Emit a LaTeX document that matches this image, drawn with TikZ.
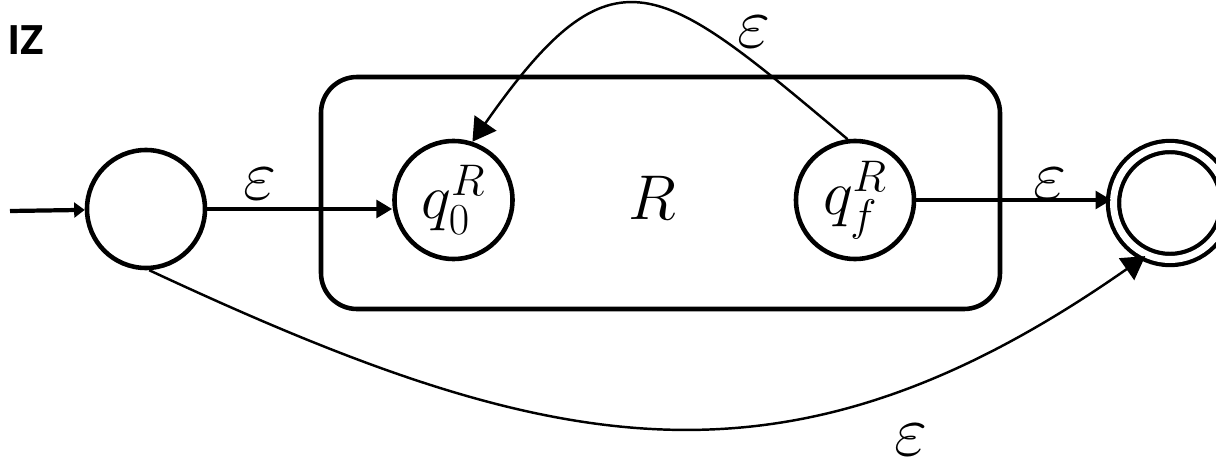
\documentclass[tikz,border=0pt]{standalone}
\usepackage{fix-cm}
\usepackage{fontspec}
\newfontfamily\izfont{Open Sans}
\usepackage{tikz}
\usetikzlibrary{positioning,arrows.meta}

\begin{document}
\begin{tikzpicture}[
  st/.style={circle, draw, line width=2.6pt, minimum size=2.36cm, inner sep=0pt,
    font=\fontsize{36}{40}\selectfont},
  accept/.style={circle, draw, line width=2.4pt, double, double distance=0.14cm,
    minimum size=2.26cm, inner sep=0pt},
  lbl/.style={inner sep=0pt, font=\fontsize{36}{40}\selectfont},
  eps/.style={inner sep=0pt, font=\fontsize{41}{44}\selectfont},
  edge/.style={line width=2.4pt, -{Triangle[length=9pt,width=10pt]}},
  curved/.style={line width=1.4pt, -{Triangle[length=13pt,width=15pt]}},
  >=Stealth
]
  \useasboundingbox (0,0) rectangle (24.32,-9.18);

  % The box for R
  \node[draw, line width=2.6pt, rounded corners=0.72cm, minimum width=13.58cm,
    minimum height=4.64cm, inner sep=0pt] (frame) at (13.21,-3.86) {};
  \node[lbl] (rname) at (13.04,-3.96) {$R$};

  % States
  \node[st] (start) at (2.92,-4.18) {};
  \node[st] (q0) at (9.07,-4.0) {$q_0^R$};
  \node[st] (qf) at (17.1,-4.0) {$q_f^R$};
  \node[accept] (acc) at (23.4,-4.06) {};

  % Corner tag
  \node[font=\izfont\bfseries\fontsize{23}{26}\selectfont, inner sep=0pt] (tag) at (0.52,-0.8) {IZ};

  % Start arrow
  \coordinate (in) at (0.2,-4.22);
  \draw[line width=2.4pt, -{Triangle[length=6pt,width=8.5pt]}] (in) -- (start);

  % Straight eps moves
  \draw[edge] (start.east) -- (start.east -| q0.west);
  \draw[edge] (qf.east) -- (qf.east -| acc.west);
  \node[eps] (e1) at (5.2,-3.68) {$\varepsilon$};
  \node[eps] (e2) at (21.0,-3.68) {$\varepsilon$};

  % Loop back and skip
  \draw[curved] (qf.97) to[out=140, in=55, looseness=1.68] (q0.72);
  \draw[curved] (start.-87) to[out=-25, in=215, looseness=1.13] (acc.245);
  \node[eps] (e3) at (15.08,-0.64) {$\varepsilon$};
  \node[eps] (e4) at (18.22,-8.8) {$\varepsilon$};
\end{tikzpicture}
\end{document}
